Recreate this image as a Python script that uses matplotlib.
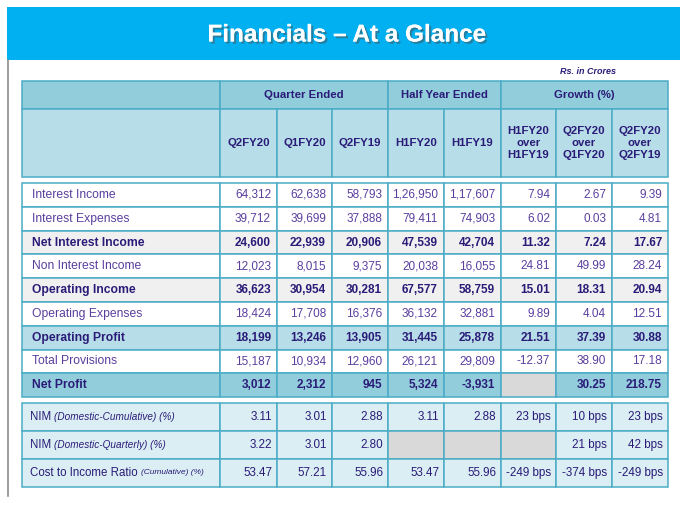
import matplotlib.pyplot as plt
from matplotlib.patches import Rectangle
import matplotlib.patheffects as pe

# data
groups = ["Quarter Ended", "Half Year Ended", "Growth (%)"]
group_span = [3, 2, 3]
col_heads = ["Q2FY20", "Q1FY20", "Q2FY19", "H1FY20", "H1FY19",
             "H1FY20\nover\nH1FY19", "Q2FY20\nover\nQ1FY20", "Q2FY20\nover\nQ2FY19"]

labels = ["Interest Income", "Interest Expenses", "Net Interest Income",
          "Non Interest Income", "Operating Income", "Operating Expenses",
          "Operating Profit", "Total Provisions", "Net Profit"]
q2fy20 = ["64,312", "39,712", "24,600", "12,023", "36,623", "18,424", "18,199", "15,187", "3,012"]
q1fy20 = ["62,638", "39,699", "22,939", "8,015", "30,954", "17,708", "13,246", "10,934", "2,312"]
q2fy19 = ["58,793", "37,888", "20,906", "9,375", "30,281", "16,376", "13,905", "12,960", "945"]
h1fy20 = ["1,26,950", "79,411", "47,539", "20,038", "67,577", "36,132", "31,445", "26,121", "5,324"]
h1fy19 = ["1,17,607", "74,903", "42,704", "16,055", "58,759", "32,881", "25,878", "29,809", "-3,931"]
g_h1 = ["7.94", "6.02", "11.32", "24.81", "15.01", "9.89", "21.51", "-12.37", None]
g_qoq = ["2.67", "0.03", "7.24", "49.99", "18.31", "4.04", "37.39", "38.90", "30.25"]
g_yoy = ["9.39", "4.81", "17.67", "28.24", "20.94", "12.51", "30.88", "17.18", "218.75"]
row_style = ["plain", "plain", "grey", "plain", "grey", "plain", "blue", "plain", "dark"]

ratio_main = ["NIM ", "NIM ", "Cost to Income Ratio "]
ratio_sub = ["(Domestic-Cumulative) (%)", "(Domestic-Quarterly) (%)", "(Cumulative) (%)"]
ratio_vals = [
    ["3.11", "3.01", "2.88", "3.11", "2.88", "23 bps", "10 bps", "23 bps"],
    ["3.22", "3.01", "2.80", None, None, None, "21 bps", "42 bps"],
    ["53.47", "57.21", "55.96", "53.47", "55.96", "-249 bps", "-374 bps", "-249 bps"],
]

# layout (pixels)
W, H = 680, 509
xs = [22, 220, 277, 332, 388, 444, 501, 556, 612, 668]
head_y = [81, 109, 177]
main_top, main_h = 183, 23.8
ratio_top, ratio_h = 403, 28

line_c = "#4BACC6"
txt_c = "#5A3E9E"
bold_c = "#2B1B78"
fill = {"plain": "white", "grey": "#F0F0F0", "blue": "#B7DEE8", "dark": "#92CDDC"}

plt.rcParams['font.family'] = ['Liberation Sans', 'DejaVu Sans']
fig = plt.figure(figsize=(6.8, 5.09), dpi=100)
ax = fig.add_axes([0, 0, 1, 1])
ax.set_xlim(0, W)
ax.set_ylim(H, 0)
ax.axis('off')

# banner
ax.add_patch(Rectangle((7, 7), 673, 53, color="#00B0F0", lw=0))
ax.text(347, 35, "Financials \u2013 At a Glance", color="white", fontsize=17.5,
        fontweight="bold", ha="center", va="center",
        path_effects=[pe.withSimplePatchShadow(offset=(1.5, -1.5), alpha=0.5), pe.Normal()])
ax.plot([8, 8], [60, 496], color="#8C8C8C", lw=1.2)
ax.text(616, 71, "Rs. in Crores", color=bold_c, fontsize=6.5, fontweight="bold",
        fontstyle="italic", ha="right", va="center")


def cell(x0, x1, y0, y1, fc):
    ax.add_patch(Rectangle((x0, y0), x1 - x0, y1 - y0, facecolor=fc,
                           edgecolor=line_c, lw=1.1))


# header
cell(xs[0], xs[1], head_y[0], head_y[1], "#92CDDC")
cell(xs[0], xs[1], head_y[1], head_y[2], "#B7DEE8")
c = 1
for g, s in zip(groups, group_span):
    cell(xs[c], xs[c + s], head_y[0], head_y[1], "#92CDDC")
    ax.text((xs[c] + xs[c + s]) / 2, (head_y[0] + head_y[1]) / 2, g, color=bold_c,
            fontsize=8.2, fontweight="bold", ha="center", va="center")
    c += s
for i, h in enumerate(col_heads):
    cell(xs[i + 1], xs[i + 2], head_y[1], head_y[2], "#B7DEE8")
    ax.text((xs[i + 1] + xs[i + 2]) / 2, (head_y[1] + head_y[2]) / 2, h, color=bold_c,
            fontsize=8.2, fontweight="bold", ha="center", va="center", linespacing=1.2)

# main table
cols = [q2fy20, q1fy20, q2fy19, h1fy20, h1fy19, g_h1, g_qoq, g_yoy]
for r, lab in enumerate(labels):
    y0 = main_top + r * main_h
    y1 = y0 + main_h
    yc = (y0 + y1) / 2
    st = row_style[r]
    bold = st != "plain"
    cell(xs[0], xs[1], y0, y1, fill[st])
    ax.text(xs[0] + 10, yc, lab, color=bold_c if bold else txt_c, fontsize=8.7,
            fontweight="bold" if bold else "normal", ha="left", va="center")
    for j, col in enumerate(cols):
        v = col[r]
        cell(xs[j + 1], xs[j + 2], y0, y1, "#D9D9D9" if v is None else fill[st])
        if v is not None:
            ax.text(xs[j + 2] - 6, yc, v, color=bold_c if bold else txt_c, fontsize=8.5,
                    fontweight="bold" if bold else "normal", ha="right", va="center")

# ratio table
fig.canvas.draw()
rend = fig.canvas.get_renderer()
for r in range(3):
    y0 = ratio_top + r * ratio_h
    y1 = y0 + ratio_h
    yc = (y0 + y1) / 2
    cell(xs[0], xs[1], y0, y1, "#DAEEF3")
    t = ax.text(xs[0] + 8, yc, ratio_main[r], color=bold_c, fontsize=8.3,
                ha="left", va="center")
    bb = t.get_window_extent(renderer=rend)
    x_end = ax.transData.inverted().transform((bb.x1, bb.y0))[0]
    ax.text(x_end, yc, ratio_sub[r], color=bold_c, fontsize=7.2 if r < 2 else 6,
            fontstyle="italic", ha="left", va="center")
    for j, v in enumerate(ratio_vals[r]):
        cell(xs[j + 1], xs[j + 2], y0, y1, "#D9D9D9" if v is None else "#DAEEF3")
        if v is not None:
            ax.text(xs[j + 2] - 5, yc, v, color=bold_c, fontsize=8.4,
                    ha="right", va="center")

fig.savefig("out.png", dpi=100)
